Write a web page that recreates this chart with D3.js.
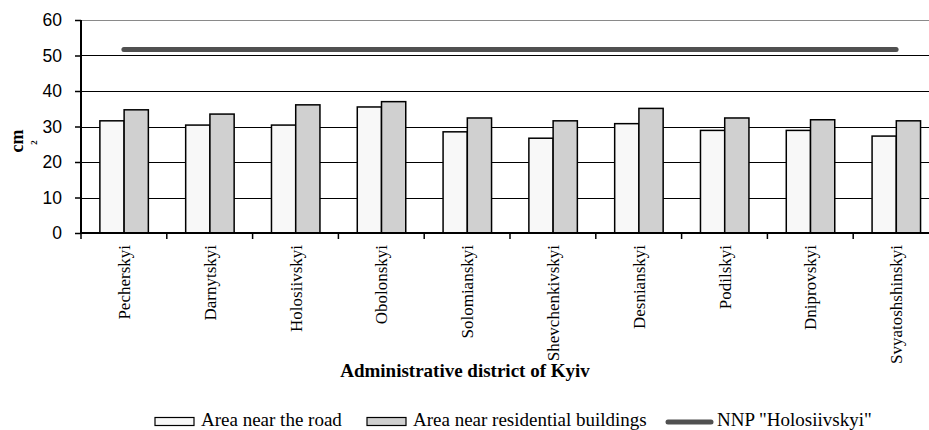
<!DOCTYPE html>
<html>
<head>
<meta charset="utf-8">
<script src="https://cdn.jsdelivr.net/npm/d3@7"></script>
<style>
  body { margin: 0; background: #fff; }
  svg { display: block; }
</style>
</head>
<body>
<svg id="chart"></svg>
<script>
const districts = ["Pecherskyi", "Darnytskyi", "Holosiivskyi", "Obolonskyi", "Solomianskyi",
    "Shevchenkivskyi", "Desnianskyi", "Podilskyi", "Dniprovskyi", "Svyatoshshinskyi"];
const nearRoad = [31.6, 30.4, 30.4, 35.5, 28.5, 26.7, 30.8, 28.9, 28.9, 27.3];
const nearResidential = [34.7, 33.5, 36.1, 37.0, 32.4, 31.6, 35.1, 32.4, 31.9, 31.6];
const nnpHolosiivskyi = [51.7, 51.7, 51.7, 51.7, 51.7, 51.7, 51.7, 51.7, 51.7, 51.7];
const yTicks = [0, 10, 20, 30, 40, 50, 60];
const seriesNames = ["Area near the road", "Area near residential buildings", "NNP \"Holosiivskyi\""];

const w = 929;
const h = 430;
const plotLeft = 81, plotRight = 939, plotTop = 20, plotBottom = 233;

const svg = d3.select("#chart")
    .attr("width", w)
    .attr("height", h);

const x = d3.scaleBand()
    .domain(districts)
    .range([plotLeft, plotRight]);
const bw = x.bandwidth();
const xSub = d3.scaleBand()
    .domain([0, 1])
    .range([bw * 0.22, bw * 0.785]);
const y = d3.scaleLinear()
    .domain([0, 60])
    .range([plotBottom, plotTop]);

// gridlines
svg.append("g")
    .selectAll("line")
    .data(yTicks.filter(d => d > 0))
    .enter()
    .append("line")
    .attr("x1", plotLeft)
    .attr("x2", w)
    .attr("y1", d => Math.round(y(d)) + 0.5)
    .attr("y2", d => Math.round(y(d)) + 0.5)
    .attr("stroke", d => d === 60 ? "#8a8a8a" : "#000")
    .attr("stroke-width", 1);

// bars
const rows = districts.map((d, i) => ({ name: d, vals: [nearRoad[i], nearResidential[i]] }));
const fills = ["#f8f8f8", "#d0d0d0"];
svg.append("g")
    .selectAll("g")
    .data(rows)
    .enter()
    .append("g")
    .attr("transform", d => "translate(" + x(d.name) + ",0)")
    .selectAll("rect")
    .data(d => d.vals)
    .enter()
    .append("rect")
    .attr("x", (d, i) => xSub(i))
    .attr("width", xSub.bandwidth())
    .attr("y", d => y(d))
    .attr("height", d => y(0) - y(d))
    .attr("fill", (d, i) => fills[i])
    .attr("stroke", "#000")
    .attr("stroke-width", 1.5);

// NNP line
const line = d3.line()
    .x((d, i) => x(districts[i]) + bw / 2)
    .y(d => y(d));
svg.append("path")
    .datum(nnpHolosiivskyi)
    .attr("d", line)
    .attr("fill", "none")
    .attr("stroke", "#505050")
    .attr("stroke-width", 5)
    .attr("stroke-linecap", "round");

// y axis
const yAxis = d3.axisLeft(y)
    .tickValues(yTicks)
    .tickSize(6)
    .tickPadding(13);
const gy = svg.append("g")
    .attr("transform", "translate(" + plotLeft + ",0)")
    .call(yAxis);
gy.select(".domain").attr("stroke-width", 2).attr("d", "M0," + plotTop + "V" + plotBottom);
gy.selectAll(".tick line").attr("stroke-width", 1.5);
gy.selectAll(".tick text")
    .attr("font-family", "Liberation Sans, Arial, sans-serif")
    .attr("font-size", "17.5px")
    .attr("fill", "#000");

// x axis
const xAxis = d3.axisBottom(x).tickSize(0).tickFormat("");
const gx = svg.append("g")
    .attr("transform", "translate(0," + plotBottom + ")")
    .call(xAxis);
gx.select(".domain").attr("stroke-width", 2).attr("d", "M" + plotLeft + ",0H" + w);
gx.selectAll(".tick").remove();
gx.selectAll("line.sep")
    .data(districts)
    .enter()
    .append("line")
    .attr("class", "sep")
    .attr("x1", d => x(d))
    .attr("x2", d => x(d))
    .attr("y1", 0)
    .attr("y2", 6)
    .attr("stroke", "#000")
    .attr("stroke-width", 1.5);

// category labels
svg.append("g")
    .selectAll("text")
    .data(districts)
    .enter()
    .append("text")
    .attr("transform", d => "translate(" + (x(d) + bw / 2 + 6) + "," + (plotBottom + 12) + ") rotate(-90)")
    .attr("text-anchor", "end")
    .attr("font-family", "Liberation Serif, Times New Roman, serif")
    .attr("font-size", "17px")
    .attr("fill", "#000")
    .text(d => d);

// axis titles
svg.append("text")
    .attr("x", 465)
    .attr("y", 377)
    .attr("text-anchor", "middle")
    .attr("font-family", "Liberation Serif, Times New Roman, serif")
    .attr("font-weight", "bold")
    .attr("font-size", "19px")
    .text("Administrative district of Kyiv");

svg.append("text")
    .attr("transform", "translate(23,141) rotate(-90)")
    .attr("text-anchor", "middle")
    .attr("font-family", "Liberation Serif, Times New Roman, serif")
    .attr("font-weight", "bold")
    .attr("font-size", "18px")
    .text("cm");
svg.append("text")
    .attr("transform", "translate(37,142.5) rotate(-90)")
    .attr("text-anchor", "middle")
    .attr("font-family", "Liberation Serif, Times New Roman, serif")
    .attr("font-weight", "bold")
    .attr("font-size", "9px")
    .text("2");

// legend
const legend = svg.append("g").attr("font-family", "Liberation Serif, Times New Roman, serif")
    .attr("font-size", "19px");
const legX = [155, 367, 668];
[0, 1].forEach(i => {
    legend.append("rect")
        .attr("x", legX[i])
        .attr("y", 417.5)
        .attr("width", 39)
        .attr("height", 8)
        .attr("fill", fills[i])
        .attr("stroke", "#000")
        .attr("stroke-width", 1.2);
    legend.append("text")
        .attr("x", legX[i] + 46)
        .attr("y", 426)
        .text(seriesNames[i]);
});
legend.append("line")
    .attr("x1", legX[2])
    .attr("x2", legX[2] + 43)
    .attr("y1", 422)
    .attr("y2", 422)
    .attr("stroke", "#505050")
    .attr("stroke-width", 5)
    .attr("stroke-linecap", "round");
legend.append("text")
    .attr("x", legX[2] + 49)
    .attr("y", 426)
    .text(seriesNames[2]);
</script>
</body>
</html>
